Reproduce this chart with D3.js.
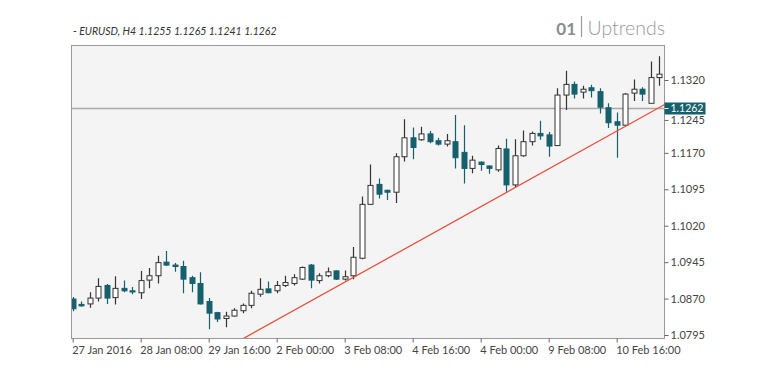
<!DOCTYPE html>
<html><head><meta charset="utf-8">
<script src="https://cdn.jsdelivr.net/npm/d3@7"></script>
<style>
html,body{margin:0;padding:0;background:#fff;}
svg{display:block;font-family:Lato,"Noto Sans",sans-serif;}
</style></head>
<body>
<svg id="chart" width="766" height="383"></svg>
<script>
const opens  = [1.0869,1.0858,1.0859,1.0871,1.0897,1.0872,1.0891,1.0886,1.0882,1.0908,1.0917,1.0945,1.0939,1.0936,1.0913,1.0901,1.0864,1.0841,1.0829,1.0834,1.0845,1.0856,1.0879,1.0890,1.0886,1.0897,1.0901,1.0910,1.0939,1.0907,1.0917,1.0927,1.0910,1.0917,1.0953,1.1064,1.1105,1.1093,1.1089,1.1162,1.1201,1.1197,1.1209,1.1195,1.1188,1.1193,1.1171,1.1138,1.1151,1.1143,1.1135,1.1178,1.1104,1.1164,1.1193,1.1210,1.1207,1.1185,1.1289,1.1311,1.1295,1.1304,1.1296,1.1263,1.1234,1.1227,1.1293,1.1301,1.1272,1.1325];
const highs  = [1.0873,1.0864,1.0883,1.0912,1.0900,1.0916,1.0907,1.0894,1.0927,1.0933,1.0958,1.0968,1.0943,1.0948,1.0917,1.0924,1.0871,1.0843,1.0843,1.0850,1.0860,1.0886,1.0912,1.0905,1.0906,1.0917,1.0920,1.0936,1.0941,1.0922,1.0934,1.0928,1.0928,1.0976,1.1080,1.1146,1.1117,1.1094,1.1169,1.1239,1.1222,1.1224,1.1215,1.1201,1.1209,1.1248,1.1227,1.1164,1.1152,1.1144,1.1185,1.1199,1.1198,1.1216,1.1214,1.1236,1.1213,1.1303,1.1339,1.1317,1.1308,1.1310,1.1303,1.1272,1.1253,1.1293,1.1321,1.1305,1.1358,1.1369];
const lows   = [1.0844,1.0853,1.0851,1.0864,1.0859,1.0858,1.0883,1.0879,1.0869,1.0891,1.0901,1.0937,1.0925,1.0881,1.0883,1.0858,1.0807,1.0822,1.0811,1.0833,1.0840,1.0850,1.0874,1.0881,1.0881,1.0894,1.0897,1.0908,1.0891,1.0901,1.0914,1.0908,1.0907,1.0910,1.0951,1.1063,1.1076,1.1073,1.1067,1.1152,1.1157,1.1195,1.1190,1.1185,1.1183,1.1138,1.1107,1.1128,1.1133,1.1127,1.1131,1.1090,1.1099,1.1162,1.1185,1.1197,1.1162,1.1184,1.1258,1.1282,1.1282,1.1284,1.1251,1.1221,1.1160,1.1226,1.1277,1.1277,1.1272,1.1308];
const closes = [1.0849,1.0855,1.0871,1.0895,1.0871,1.0891,1.0886,1.0884,1.0907,1.0917,1.0944,1.0939,1.0936,1.0910,1.0901,1.0859,1.0840,1.0828,1.0834,1.0846,1.0856,1.0881,1.0889,1.0882,1.0897,1.0903,1.0913,1.0934,1.0908,1.0917,1.0925,1.0910,1.0915,1.0955,1.1064,1.1103,1.1085,1.1089,1.1162,1.1201,1.1181,1.1209,1.1193,1.1188,1.1195,1.1160,1.1138,1.1155,1.1146,1.1138,1.1179,1.1104,1.1164,1.1193,1.1210,1.1205,1.1184,1.1289,1.1311,1.1291,1.1301,1.1298,1.1264,1.1232,1.1227,1.1291,1.1301,1.1291,1.1325,1.1332];

const xTickIndex  = [0, 8, 16, 24, 32, 40, 48, 56, 64];
const xTickLabels = ["27 Jan 2016","28 Jan 08:00","29 Jan 16:00","2 Feb 00:00","3 Feb 08:00","4 Feb 16:00","4 Feb 00:00","9 Feb 08:00","10 Feb 16:00"];
const yTicks = [1.0795, 1.0870, 1.0945, 1.1020, 1.1095, 1.1170, 1.1245, 1.1320];
const currentPrice = 1.1262;
const trendIndex = [20.1, 69.7];
const trendValue = [1.0788, 1.1270];
const titleText = "- EURUSD, H4 1.1255 1.1265 1.1241 1.1262";
const brandNum = "01";
const brandText = "Uptrends";

const teal = "#16606d";
const svg = d3.select("#chart");
const P = {l: 71.5, r: 664.5, t: 45.5, b: 338.5};

const x = d3.scaleLinear().domain([0, 69]).range([72.7, 659.2]);
const y = d3.scaleLinear().domain([1.0795, 1.1320]).range([335, 80]);

const candles = opens.map((o, i) => ({i, o, h: highs[i], l: lows[i], c: closes[i]}));

svg.append("rect").attr("x", P.l).attr("y", P.t).attr("width", P.r - P.l).attr("height", P.b - P.t)
  .attr("fill", "#f4f4f4");

svg.append("clipPath").attr("id", "clip").append("rect")
  .attr("x", P.l).attr("y", P.t).attr("width", P.r - P.l).attr("height", P.b - P.t);

const plot = svg.append("g").attr("clip-path", "url(#clip)");

// current price line
plot.append("line").attr("x1", P.l).attr("x2", P.r)
  .attr("y1", Math.round(y(currentPrice)) + 0.5).attr("y2", Math.round(y(currentPrice)) + 0.5)
  .attr("stroke", "#a9a9a9").attr("stroke-width", 1.4);

// candles
const bw = 5;
const g = plot.selectAll("g.c").data(candles).join("g").attr("class", "c");
g.append("line")
  .attr("x1", d => Math.round(x(d.i)) + 0.5).attr("x2", d => Math.round(x(d.i)) + 0.5)
  .attr("y1", d => y(d.h)).attr("y2", d => y(d.l))
  .attr("stroke", d => d.c >= d.o ? "#333" : teal).attr("stroke-width", 1.2);
g.append("rect")
  .attr("x", d => Math.round(x(d.i)) + 0.5 - bw / 2)
  .attr("width", bw)
  .attr("y", d => y(Math.max(d.o, d.c)))
  .attr("height", d => Math.max(1.2, Math.abs(y(d.o) - y(d.c))))
  .attr("fill", d => d.c >= d.o ? "#fff" : teal)
  .attr("stroke", d => d.c >= d.o ? "#333" : teal)
  .attr("stroke-width", 1);

// trend line
plot.append("line")
  .attr("x1", x(trendIndex[0])).attr("y1", y(trendValue[0]))
  .attr("x2", x(trendIndex[1])).attr("y2", y(trendValue[1]))
  .attr("stroke", "#e8523e").attr("stroke-width", 1.3);

// frame
svg.append("rect").attr("x", P.l).attr("y", P.t).attr("width", P.r - P.l).attr("height", P.b - P.t)
  .attr("fill", "none").attr("stroke", "#9a9a9a").attr("stroke-width", 1);

// y axis
const yAxis = d3.axisRight(y).tickValues(yTicks).tickFormat(d3.format(".4f")).tickSize(4).tickPadding(2);
const ya = svg.append("g").attr("transform", `translate(${P.r},0)`).call(yAxis);
ya.select(".domain").remove();
ya.selectAll("line").attr("stroke", "#666");
ya.selectAll("text").attr("fill", "#444").attr("font-size", 11).attr("font-family", "Lato, sans-serif");
// the label just below the price marker sits a little lower, as in the reference
ya.selectAll(".tick").filter(d => d === 1.1245).attr("transform", `translate(0,${y(1.1245) + 4})`);

// price label
const py = Math.round(y(currentPrice)) + 0.5;
svg.append("rect").attr("x", P.r).attr("y", py - 6).attr("width", 41).attr("height", 12).attr("fill", teal);
svg.append("line").attr("x1", P.r).attr("x2", P.r + 4).attr("y1", py).attr("y2", py).attr("stroke", "#fff");
svg.append("text").attr("x", P.r + 6).attr("y", py).attr("dy", "0.35em")
  .attr("fill", "#fff").attr("font-size", 10.5).text(d3.format(".4f")(currentPrice));

// x axis
const xAxis = d3.axisBottom(x).tickValues(xTickIndex)
  .tickFormat((d, k) => xTickLabels[k]).tickSize(4).tickPadding(4);
const xa = svg.append("g").attr("transform", `translate(0,${P.b})`).call(xAxis);
xa.select(".domain").remove();
xa.selectAll("line").attr("stroke", "#666");
xa.selectAll("text").attr("fill", "#444").attr("font-size", 11).attr("font-family", "Lato, sans-serif")
  .attr("text-anchor", "start").attr("x", -1);

// title
svg.append("text").attr("x", 73).attr("y", 35).attr("font-size", 10.5).attr("font-style", "italic")
  .attr("fill", "#333").text(titleText);

// brand
svg.append("text").attr("x", 665).attr("y", 35).attr("text-anchor", "end")
  .attr("font-size", 19.5).attr("font-weight", 300).attr("fill", "#999").text(brandText);
svg.append("text").attr("x", 576).attr("y", 35).attr("text-anchor", "end")
  .attr("font-size", 17).attr("font-weight", "bold").attr("fill", "#8c8c8c").text(brandNum);
svg.append("line").attr("x1", 581.5).attr("x2", 581.5).attr("y1", 16).attr("y2", 37)
  .attr("stroke", "#9a9a9a").attr("stroke-width", 1.2);
</script>
</body></html>
